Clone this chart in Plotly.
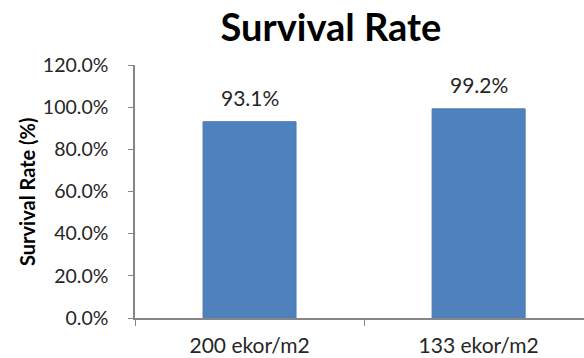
import plotly.graph_objects as go

categories = ["200 ekor/m2", "133 ekor/m2"]
survival = [0.931, 0.992]
y_ticks = [0, 0.2, 0.4, 0.6, 0.8, 1.0, 1.2]

FONT = "Lato"
W, H = 584, 358
L, R, T, B = 135, 0, 65, 40

fig = go.Figure(go.Bar(
    x=categories, y=survival, width=0.406,
    marker=dict(color="#4F81BD", line=dict(color="#4A7AB5", width=1)),
))

for c, v in zip(categories, survival):
    fig.add_annotation(x=c, y=v, text=f"{v * 100:.1f}%", showarrow=False,
                       yanchor="bottom", yshift=10,
                       font=dict(family=FONT, size=21, color="#262626"))

fig.update_layout(
    width=W, height=H,
    margin=dict(l=L, r=R, t=T, b=B),
    paper_bgcolor="white", plot_bgcolor="white",
    showlegend=False,
    title=dict(text="<b>Survival Rate</b>", x=331 / W, xanchor="center",
               y=1 - 28 / H, yanchor="middle", yref="container",
               font=dict(family=FONT, size=38, color="black")),
    xaxis=dict(type="category", range=[-0.5, 1.46], tickson="boundaries",
               ticks="outside", ticklen=6, tickcolor="#868686",
               showline=True, linecolor="#868686", linewidth=1.5,
               showgrid=False, ticklabelstandoff=8,
               tickfont=dict(family=FONT, size=21, color="#262626")),
    yaxis=dict(range=[0, 1.2], tickvals=y_ticks, tickformat=".1%",
               ticks="outside", ticklen=5, tickcolor="#868686",
               showline=True, linecolor="#868686", linewidth=1.5,
               showgrid=False, zeroline=False, ticklabelstandoff=16,
               tickfont=dict(family=FONT, size=19.5, color="#262626")),
)
fig.add_annotation(text="<b>Survival Rate (%)</b>", textangle=-90,
                   xref="paper", yref="paper",
                   x=(27 - L) / (W - L - R), y=0.5 - (192 - (T + (H - T - B) / 2)) / (H - T - B),
                   xanchor="center", yanchor="middle", showarrow=False,
                   font=dict(family=FONT, size=20, color="black"))

fig.write_html("out.html", config={"displayModeBar": False},
               post_script="document.body.style.margin='0';")
